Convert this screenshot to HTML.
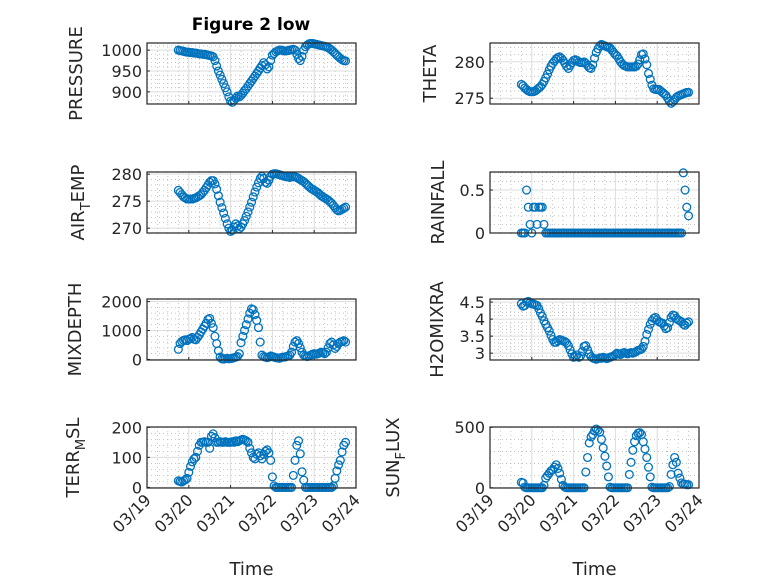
<!DOCTYPE html>
<html><head><meta charset="utf-8">
<style>
html,body{margin:0;padding:0;background:#fff;}
svg{display:block;font-family:"DejaVu Sans","Liberation Sans",sans-serif;}
</style></head>
<body>
<svg id="fig" width="778" height="583" viewBox="0 0 778 583" xmlns="http://www.w3.org/2000/svg">
<rect x="0" y="0" width="778" height="583" fill="#fff"/>
<text x="251" y="30" text-anchor="middle" font-size="17" font-weight="bold" fill="#000">Figure 2 low</text>
</svg>
<script>
// shared time axis: hourly from day 0.75 (03/19 18:00) to 4.75
const dayTicks = ["03/19","03/20","03/21","03/22","03/23","03/24"];
const tStart = 0.75;
const tStep = 1/24;
const pressure = [1000,999,998,997,996,995,995,
994,994,993,993,992,991,991,990,990,989,988,987,
986,984,975,962,950,
940,930,920,910,900,888,878,
875,880,885,890,888,892,
897,903,908,914,920,926,932,938,944,950,957,963,
970,965,955,960,975,988,
992,996,998,1000,1000,999,
998,998,999,1000,1001,1002,1000,990,980,975,985,1000,
1008,1012,1015,1016,1016,1015,1014,1013,1012,1011,1010,1009,
1008,1006,1003,1000,996,992,988,984,980,977,975,974];
const theta = [276.9,276.7,276.4,276.2,276.0,275.9,275.9,
275.9,276.0,276.2,276.4,276.6,276.9,277.3,277.8,278.3,278.9,279.4,279.8,
280.1,280.4,280.6,280.7,280.5,280.2,279.8,279.4,279.1,279.5,279.9,280.2,
280.3,280.2,280.0,279.9,279.9,280.0,279.8,279.5,279.2,279.1,279.6,280.5,
281.3,281.8,282.2,282.4,282.3,282.2,282.1,282.0,281.9,281.6,281.3,281.0,
280.8,280.4,280.0,279.7,279.5,279.4,279.3,279.3,279.3,279.3,279.3,279.4,
279.7,280.3,281.0,281.1,280.4,279.6,278.4,277.6,276.8,276.3,276.2,276.2,
276.2,276.0,275.8,275.6,275.4,275.0,274.6,274.3,274.5,274.8,275.1,275.3,
275.4,275.5,275.6,275.7,275.8,275.8];
const airTemp = [277.0,276.6,276.2,275.8,275.6,275.4,275.4,
275.4,275.4,275.5,275.6,275.8,276.0,276.2,276.6,277.0,277.5,278.0,278.5,
278.8,278.8,278.2,277.2,276.0,274.8,
273.8,272.8,271.8,270.8,270.0,269.4,
269.6,270.2,270.8,270.4,269.9,270.2,
270.8,271.4,272.2,273.0,273.9,274.8,275.8,276.7,277.6,278.4,279.2,279.6,
279.2,278.5,278.3,278.9,279.6,280.0,
280.1,280.1,280.0,279.9,279.8,279.7,279.6,279.5,279.5,279.4,279.5,279.5,
279.5,279.4,279.2,279.0,278.8,278.6,278.3,278.0,277.7,277.4,277.2,277.0,
276.8,276.6,276.3,276.0,275.8,275.6,275.4,275.2,274.9,274.6,274.2,273.8,
273.4,273.2,273.3,273.5,273.7,273.9];
const rainfall = [0,0,0,0.5,0.3,0.1,0,0.3,0.3,0.1,0.3,0.3,0.3,0.1,
0,0,0,0,0,0,0,0,0,0,0,0,0,0,0,0,0,0,0,0,0,0,0,0,0,0,0,0,0,0,0,0,0,0,0,0,
0,0,0,0,0,0,0,0,0,0,0,0,0,0,0,0,0,0,0,0,0,0,0,0,0,0,0,0,0,0,0,0,0,0,0,0,
0,0,0,0,0,0,0,0.7,0.5,0.3,0.2];
const mixDepth = [350,550,620,660,680,650,700,
720,760,700,680,760,850,950,1050,1150,1250,1380,1420,
1250,1100,800,550,300,
80,20,10,30,40,20,30,
40,60,80,100,200,580,
800,1000,1200,1400,1600,1750,1720,1550,1350,1100,600,150,
100,80,60,80,120,100,
80,60,50,40,60,80,80,100,120,150,250,450,
600,650,550,400,250,150,120,100,120,150,180,200,
180,200,220,250,230,200,250,400,550,600,500,380,
450,550,600,620,650,600];
const h2oMix = [4.45,4.38,4.40,4.50,4.52,4.48,4.45,
4.44,4.42,4.40,4.30,4.18,4.08,3.95,3.85,3.75,3.65,3.52,3.40,
3.32,3.32,3.36,3.40,3.38,3.36,3.34,3.30,3.22,3.10,2.98,2.88,
2.90,2.95,2.88,2.92,3.05,3.20,3.22,3.10,2.98,2.90,2.86,2.84,
2.82,2.84,2.86,2.85,2.88,2.86,2.84,2.86,2.88,2.90,2.92,2.96,
3.00,2.98,2.96,3.00,3.02,3.00,2.98,3.00,3.02,3.00,3.02,3.05,
3.08,3.10,3.12,3.20,3.35,3.55,3.70,3.85,3.95,4.02,4.05,3.98,
3.92,3.90,3.88,3.80,3.72,3.75,3.90,4.05,4.12,4.10,4.02,3.98,
3.95,3.92,3.85,3.82,3.88,3.92];
const terrMsl = [22,20,18,22,25,30,50,
70,85,95,100,120,140,150,150,152,150,150,130,
170,178,165,150,150,152,150,150,152,150,150,150,
152,150,155,152,155,158,160,158,155,150,130,115,
100,95,110,115,105,95,110,120,125,115,90,35,
5,0,0,0,0,0,0,0,0,0,0,40,
90,140,155,112,52,24,0,0,0,0,0,0,
0,0,0,0,0,0,0,0,0,0,5,30,
55,75,90,118,140,150];
const sunFlux = [45,40,5,0,0,0,0,
0,0,0,0,0,0,20,80,100,120,140,150,
170,190,160,120,70,20,5,0,0,0,0,0,
0,0,0,0,0,0,130,250,370,420,440,470,
485,475,460,400,330,260,180,90,5,0,0,0,
0,0,0,0,0,0,0,110,210,310,380,430,
450,455,440,380,320,250,170,90,5,0,0,0,
0,0,0,0,0,0,10,110,190,250,210,120,
80,40,30,30,25,25];
const pressureTicks = [900,950,1000];
const thetaTicks = [275,280];
const airTicks = [270,275,280];
const rainTicks = [0,0.5];
const mixTicks = [0,1000,2000];
const h2oTicks = [3,3.5,4,4.5];
const terrTicks = [0,100,200];
const sunTicks = [0,500];

const NS = "http://www.w3.org/2000/svg";
const svg = document.getElementById("fig");
function mk(tag, attrs, parent){
  const e = document.createElementNS(NS, tag);
  for (const k in attrs) e.setAttribute(k, attrs[k]);
  (parent||svg).appendChild(e);
  return e;
}
const W = 209, H = 61;
const panels = [
 {key:"pressure", data:pressure, ticks:pressureTicks, lo:871, hi:1017, minor:10, x:147, y:43, label:["PRESSURE"], lx:76},
 {key:"theta", data:theta, ticks:thetaTicks, lo:274.2, hi:282.6, minor:1, x:490, y:43, label:["THETA"], lx:430},
 {key:"air-temp", data:airTemp, ticks:airTicks, lo:269.1, hi:280.4, minor:1, x:147, y:172, label:["AIR","T","EMP"], lx:78},
 {key:"rainfall", data:rainfall, ticks:rainTicks, lo:0, hi:0.71, minor:0.1, x:490, y:172, label:["RAINFALL"], lx:438},
 {key:"mixdepth", data:mixDepth, ticks:mixTicks, lo:-20, hi:2090, minor:200, x:147, y:299, label:["MIXDEPTH"], lx:75},
 {key:"h2omixra", data:h2oMix, ticks:h2oTicks, lo:2.8, hi:4.59, minor:0.1, x:490, y:299, label:["H2OMIXRA"], lx:437},
 {key:"terr-msl", data:terrMsl, ticks:terrTicks, lo:-2, hi:201, minor:20, x:147, y:427, label:["TERR","M","SL"], lx:73},
 {key:"sun-flux", data:sunFlux, ticks:sunTicks, lo:-2, hi:502, minor:100, x:490, y:427, label:["SUN","F","LUX"], lx:393}
];
panels.forEach((p, pi) => {
  const g = mk("g", {});
  
  
  const xs = d => p.x + (d / 5) * W;
  const ys = v => p.y + H - (v - p.lo) / (p.hi - p.lo) * H;
  mk("rect", {x:p.x, y:p.y, width:W, height:H, fill:"#fff"}, g);
  for (let k = 1; k < 20; k++) {
    if (k % 4 === 0) continue;
    const gx = xs(k/4);
    const l = mk("line", {x1:gx, x2:gx, y1:p.y, y2:p.y+H, stroke:"#b8b8b8", "stroke-width":0.8, "stroke-dasharray":"1 3"}, g);
    
    
  }
  const nStart = Math.ceil(p.lo / p.minor - 1e-6);
  for (let n = nStart; n * p.minor <= p.hi + 1e-9; n++) {
    const v = n * p.minor;
    if (p.ticks.some(t => Math.abs(t - v) < 1e-6)) continue;
    const gy = ys(v);
    const l = mk("line", {x1:p.x, x2:p.x+W, y1:gy, y2:gy, stroke:"#b8b8b8", "stroke-width":0.8, "stroke-dasharray":"1 3"}, g);
    
    
  }
  for (let d = 1; d < 5; d++) {
    const l = mk("line", {x1:xs(d), x2:xs(d), y1:p.y, y2:p.y+H, stroke:"#dcdcdc", "stroke-width":1}, g);
    
    
  }
  p.ticks.forEach(t => {
    const gy = ys(t);
    const l = mk("line", {x1:p.x, x2:p.x+W, y1:gy, y2:gy, stroke:"#dcdcdc", "stroke-width":1}, g);
    
    
    const tk = mk("line", {x1:p.x, x2:p.x+3, y1:gy, y2:gy, stroke:"#262626", "stroke-width":1}, g);
    
    
    const tx = mk("text", {x:p.x-5, y:gy+6, "text-anchor":"end", "font-size":16, fill:"#262626"}, g);
    tx.textContent = String(t);
    
    
  });
  for (let d = 0; d <= 5; d++) {
    const tk = mk("line", {x1:xs(d), x2:xs(d), y1:p.y+H, y2:p.y+H-3, stroke:"#262626", "stroke-width":1}, g);
    
    
  }
  p.data.forEach((v, i) => {
    const c = mk("circle", {cx:xs(tStart + i*tStep), cy:ys(v), r:3.9, fill:"none", stroke:"#0072BD", "stroke-width":1.3}, g);
    
    
  });
  const box = mk("rect", {x:p.x, y:p.y, width:W, height:H, fill:"none", stroke:"#262626", "stroke-width":1.2}, g);
  
  
  const cy = p.y + H/2;
  const lab = mk("text", {x:p.lx, y:cy, "text-anchor":"middle", "font-size":18, fill:"#262626", transform:`rotate(-90 ${p.lx} ${cy})`}, g);
  
  
  lab.setAttribute("dy", "6");
  if (p.label.length === 1) {
    lab.textContent = p.label[0];
  } else {
    const a = mk("tspan", {}, lab); a.textContent = p.label[0];
    const b = mk("tspan", {"font-size":13, dy:"6"}, lab); b.textContent = p.label[1];
    const c2 = mk("tspan", {dy:"-6"}, lab); c2.textContent = p.label[2];
  }
  if (pi >= 6) {
    dayTicks.forEach((lbl, d) => {
      const tx0 = xs(d) + 5, ty0 = p.y + H + 13;
      const t = mk("text", {x:tx0, y:ty0, "text-anchor":"end", "font-size":16, fill:"#262626", transform:`rotate(-45 ${tx0} ${ty0})`}, g);
      t.textContent = lbl;
      
      
    });
    const xt = mk("text", {x:p.x + W/2, y:575, "text-anchor":"middle", "font-size":18, fill:"#262626"}, g);
    xt.textContent = "Time";
    
    
  }
});
</script>
</body></html>
